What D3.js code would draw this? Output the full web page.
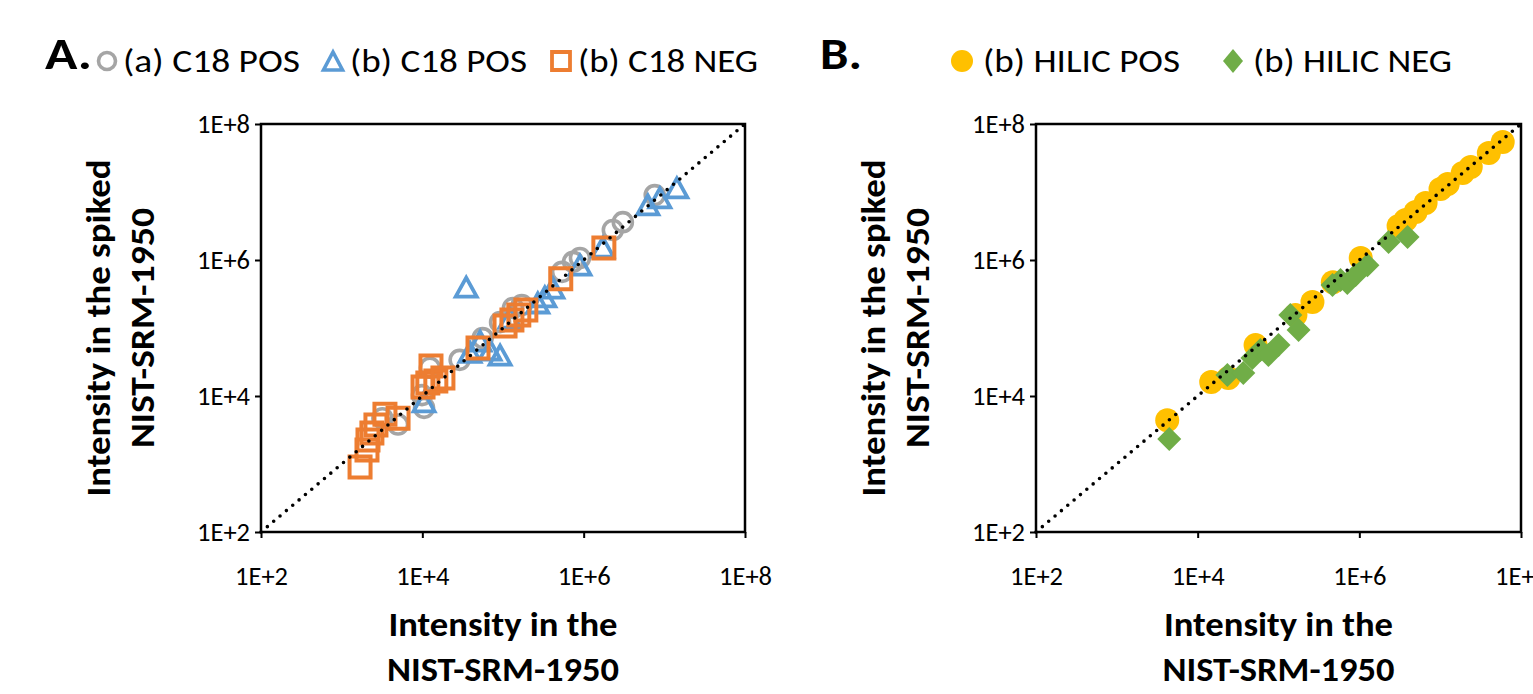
<!DOCTYPE html>
<html>
<head>
<meta charset="utf-8">
<script src="https://cdn.jsdelivr.net/npm/d3@7"></script>
<style>
  html, body { margin: 0; padding: 0; background: #fff; }
  svg { display: block; }
  text { font-family: Carlito, Calibri, Lato, "Open Sans", sans-serif; fill: #000; }
</style>
</head>
<body>
<svg id="chart" width="1533" height="694"></svg>
<script>
// ---------------- DATA ----------------
const tickValues = [1e2, 1e4, 1e6, 1e8];
const tickLabels = ["1E+2", "1E+4", "1E+6", "1E+8"];

// Panel A: [NIST-SRM-1950 intensity, spiked intensity]
const c18PosA = [[3.2e3,4.7e3],[5.0e3,3.8e3],[9.9e3,1.03e4],[1.05e4,6.7e3],[1.24e4,2.6e4],[2.9e4,3.4e4],
  [5.6e4,7.1e4],[9.2e4,1.22e5],[1.33e5,1.97e5],[1.71e5,2.18e5],[5.4e5,6.7e5],[7.4e5,9.4e5],[9.0e5,1.07e6],
  [2.3e6,2.76e6],[3.06e6,3.6e6],[7.6e6,9.0e6]];
const c18PosB = [[3.5e4,4.0e5],[1.05e4,8.2e3],[3.9e4,4.4e4],[5.2e4,6.4e4],[6.9e4,4.75e4],[9.2e4,4.0e4],
  [1.22e5,1.4e5],[2.7e5,2.33e5],[3.3e5,2.86e5],[4.15e5,3.87e5],[9.0e5,8.4e5],[1.73e6,1.55e6],
  [6.25e6,6.45e6],[8.8e6,8.2e6],[1.43e7,1.15e7]];
const c18NegB = [[1.69e3,9.0e2],[2.06e3,1.6e3],[2.12e3,2.25e3],[2.37e3,2.86e3],[2.66e3,3.75e3],[3.44e3,5.4e3],
  [5.0e3,4.7e3],[1.28e4,2.76e4],[1.02e4,1.36e4],[1.17e4,1.55e4],[1.47e4,1.66e4],[1.8e4,1.84e4],
  [4.9e4,5.1e4],[1.06e5,1.07e5],[1.29e5,1.31e5],[1.57e5,1.55e5],[1.92e5,1.84e5],[5.2e5,5.3e5],[1.78e6,1.5e6]];

// Panel B
const hilicPosB = [[4.2e3,4.4e3],[1.47e4,1.61e4],[2.4e4,1.84e4],[5.2e4,5.6e4],[1.62e5,1.55e5],[2.63e5,2.41e5],
  [4.7e5,4.7e5],[1.04e6,1.07e6],[3.06e6,3.16e6],[3.74e6,3.88e6],[4.97e6,5.08e6],[6.6e6,6.9e6],
  [1.01e7,1.11e7],[1.24e7,1.31e7],[1.9e7,1.9e7],[2.39e7,2.33e7],[4.0e7,3.75e7],[5.94e7,5.43e7]];
const hilicNegB = [[4.45e3,2.33e3],[2.33e4,2.04e4],[3.67e4,2.18e4],[4.75e4,3.62e4],[5.97e4,4.75e4],[7.5e4,4.0e4],
  [1.0e5,5.6e4],[1.4e5,1.55e5],[1.77e5,9.35e4],[4.66e5,4.28e5],[5.85e5,5.08e5],[7.1e5,4.6e5],
  [9.0e5,6.0e5],[1.26e6,8.4e5],[2.3e6,1.84e6],[3.95e6,2.18e6]];

const identityLine = [[1e2,1e2],[1e8,1e8]];

// ---------------- STYLE ----------------
const COL = { gray: "#A5A5A5", blue: "#5B9BD5", orange: "#ED7D31", yellow: "#FFC000", green: "#70AD47" };
const plotTop = 124, plotBottom = 532;

const svg = d3.select("#chart");

function trianglePath(w, h) { return `M0,${-h/2}L${w/2},${h/2}L${-w/2},${h/2}Z`; }
function squarePath(s) { return `M${-s/2},${-s/2}H${s/2}V${s/2}H${-s/2}Z`; }
function diamondPath(r) { return `M0,${-r}L${r},0L0,${r}L${-r},0Z`; }

function drawPanel(left, right) {
  const x = d3.scaleLog().domain([1e2, 1e8]).range([left, right]);
  const y = d3.scaleLog().domain([1e2, 1e8]).range([plotBottom, plotTop]);
  const g = svg.append("g");

  const xAxis = d3.axisBottom(x).tickValues(tickValues)
    .tickFormat((d, i) => tickLabels[i]).tickSizeInner(6).tickSizeOuter(0).tickPadding(29);
  const yAxis = d3.axisLeft(y).tickValues(tickValues)
    .tickFormat((d, i) => tickLabels[i]).tickSizeInner(6).tickSizeOuter(0).tickPadding(5);

  const gx = g.append("g").attr("transform", `translate(0,${plotBottom})`).call(xAxis);
  const gy = g.append("g").attr("transform", `translate(${left},0)`).call(yAxis);
  [gx, gy].forEach(a => {
    a.select(".domain").remove();
    a.selectAll(".tick line").attr("stroke", "#000").attr("stroke-width", 2);
    a.selectAll(".tick text").attr("font-size", 26).attr("fill", "#000")
      .attr("textLength", 53).attr("lengthAdjust", "spacingAndGlyphs")
      .style("font-family", 'Carlito, Calibri, Lato, "Open Sans", sans-serif');
  });

  const plot = g.append("g");
  g.append("rect").attr("x", left).attr("y", plotTop).attr("width", right - left).attr("height", plotBottom - plotTop)
    .attr("fill", "none").attr("stroke", "#000").attr("stroke-width", 2.5);

  const cx = (left + right) / 2;
  g.append("text").attr("x", cx).attr("y", 636).attr("text-anchor", "middle")
    .attr("font-size", 34).attr("font-weight", "bold")
    .attr("textLength", 229).attr("lengthAdjust", "spacingAndGlyphs").text("Intensity in the");
  g.append("text").attr("x", cx).attr("y", 681).attr("text-anchor", "middle")
    .attr("font-size", 34).attr("font-weight", "bold")
    .attr("textLength", 232).attr("lengthAdjust", "spacingAndGlyphs").text("NIST-SRM-1950");
  const cy = (plotTop + plotBottom) / 2;
  g.append("text").attr("transform", `translate(${left - 151},${cy}) rotate(-90)`).attr("text-anchor", "middle")
    .attr("font-size", 34).attr("font-weight", "bold")
    .attr("textLength", 337).attr("lengthAdjust", "spacingAndGlyphs").text("Intensity in the spiked");
  g.append("text").attr("transform", `translate(${left - 107},${cy}) rotate(-90)`).attr("text-anchor", "middle")
    .attr("font-size", 34).attr("font-weight", "bold")
    .attr("textLength", 240).attr("lengthAdjust", "spacingAndGlyphs").text("NIST-SRM-1950");

  return { x, y, plot, g };
}

function drawIdentity(p) {
  p.g.append("path").datum(identityLine)
    .attr("d", d3.line().x(d => p.x(d[0])).y(d => p.y(d[1])))
    .attr("fill", "none").attr("stroke", "#000").attr("stroke-width", 3.6)
    .attr("stroke-linecap", "round").attr("stroke-dasharray", "0,8.3");
}

// ---------------- PANEL A ----------------
const A = drawPanel(261, 745);
A.plot.selectAll("circle.a").data(c18PosA).join("circle")
  .attr("cx", d => A.x(d[0])).attr("cy", d => A.y(d[1])).attr("r", 9.5)
  .attr("fill", "none").attr("stroke", COL.gray).attr("stroke-width", 3.6);
A.plot.selectAll("path.t").data(c18PosB).join("path")
  .attr("transform", d => `translate(${A.x(d[0])},${A.y(d[1])})`).attr("d", trianglePath(21, 19))
  .attr("fill", "none").attr("stroke", COL.blue).attr("stroke-width", 3.8).attr("stroke-linejoin", "miter");
A.plot.selectAll("path.s").data(c18NegB).join("path")
  .attr("transform", d => `translate(${A.x(d[0])},${A.y(d[1])})`).attr("d", squarePath(21))
  .attr("fill", "none").attr("stroke", COL.orange).attr("stroke-width", 4);
drawIdentity(A);

// ---------------- PANEL B ----------------
const B = drawPanel(1036, 1521);
B.plot.selectAll("circle.p").data(hilicPosB).join("circle")
  .attr("cx", d => B.x(d[0])).attr("cy", d => B.y(d[1])).attr("r", 12)
  .attr("fill", COL.yellow);
B.plot.selectAll("path.n").data(hilicNegB).join("path")
  .attr("transform", d => `translate(${B.x(d[0])},${B.y(d[1])})`).attr("d", diamondPath(12))
  .attr("fill", COL.green);
drawIdentity(B);

// ---------------- LEGENDS & PANEL LETTERS ----------------
svg.append("text").attr("x", 45).attr("y", 69).attr("font-size", 45).attr("font-weight", "bold")
  .attr("textLength", 47).attr("lengthAdjust", "spacingAndGlyphs").text("A.");
svg.append("text").attr("x", 820).attr("y", 69).attr("font-size", 45).attr("font-weight", "bold")
  .attr("textLength", 42).attr("lengthAdjust", "spacingAndGlyphs").text("B.");

const legendA = [
  { label: "(a) C18 POS", mx: 107, tx: 123, tl: 177, kind: "circle" },
  { label: "(b) C18 POS", mx: 333, tx: 350, tl: 177, kind: "triangle" },
  { label: "(b) C18 NEG", mx: 561, tx: 578, tl: 180, kind: "square" }
];
const legendB = [
  { label: "(b) HILIC POS", mx: 962, tx: 983, tl: 197, kind: "dot" },
  { label: "(b) HILIC NEG", mx: 1233, tx: 1253, tl: 199, kind: "diamond" }
];
const legY = 61;
[...legendA, ...legendB].forEach(l => {
  const gg = svg.append("g").attr("transform", `translate(${l.mx},${legY})`);
  if (l.kind === "circle") gg.append("circle").attr("r", 8.5).attr("fill", "none").attr("stroke", COL.gray).attr("stroke-width", 3.6);
  if (l.kind === "triangle") gg.append("path").attr("d", trianglePath(19, 18)).attr("fill", "none").attr("stroke", COL.blue).attr("stroke-width", 3.6);
  if (l.kind === "square") gg.append("path").attr("d", squarePath(18)).attr("fill", "none").attr("stroke", COL.orange).attr("stroke-width", 3.8);
  if (l.kind === "dot") gg.append("circle").attr("r", 11).attr("fill", COL.yellow);
  if (l.kind === "diamond") gg.append("path").attr("d", "M0,-12L10,0L0,12L-10,0Z").attr("fill", COL.green);
  svg.append("text").attr("x", l.tx).attr("y", 72).attr("font-size", 33)
    .attr("textLength", l.tl).attr("lengthAdjust", "spacingAndGlyphs").text(l.label);
});
</script>
</body>
</html>
